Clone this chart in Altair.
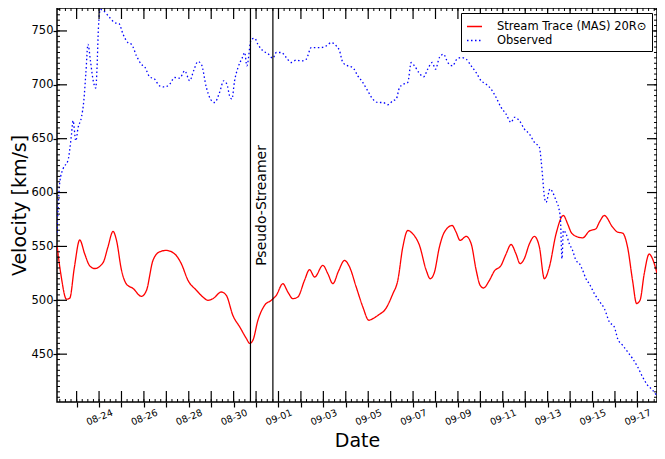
import json
import altair as alt
import pandas as pd

YEAR = "2013"
RED_NAME = "Stream Trace (MAS) 20R\u2299"
OBS_NAME = "Observed"

RED_TIME = [
    "08-22 03:00", "08-22 07:10", "08-22 13:10", "08-22 16:40", "08-22 21:30", "08-23 03:20", "08-23 08:40", "08-23 14:00", "08-23 19:20", "08-24 04:20",
    "08-24 09:20", "08-24 15:00", "08-24 18:40", "08-25 00:00", "08-25 05:20", "08-25 12:20", "08-25 21:20", "08-26 02:40", "08-26 09:40", "08-26 16:50",
    "08-27 00:00", "08-27 09:00", "08-27 16:00", "08-27 23:10", "08-28 08:10", "08-28 15:10", "08-28 20:30", "08-29 01:50", "08-29 10:50", "08-29 16:10",
    "08-29 23:10", "08-30 06:30", "08-30 13:40", "08-30 17:10", "08-30 20:40", "08-31 02:00", "08-31 09:10", "08-31 16:20", "08-31 21:40", "09-01 04:40",
    "09-01 10:00", "09-01 15:20", "09-01 20:40", "09-02 03:50", "09-02 09:10", "09-02 14:40", "09-02 23:30", "09-03 04:50", "09-03 10:10", "09-03 16:10",
    "09-03 22:40", "09-04 04:00", "09-04 11:10", "09-04 18:10", "09-05 00:40", "09-05 05:00", "09-05 12:00", "09-05 17:30", "09-06 02:20", "09-06 07:40",
    "09-06 13:00", "09-06 18:20", "09-06 23:40", "09-07 06:50", "09-07 14:00", "09-07 18:20", "09-07 22:50", "09-08 04:10", "09-08 09:30", "09-08 17:50",
    "09-08 22:00", "09-09 02:20", "09-09 08:50", "09-09 14:10", "09-09 19:30", "09-09 23:40", "09-10 03:20", "09-10 09:40", "09-10 15:00", "09-10 22:10",
    "09-11 03:30", "09-11 08:50", "09-11 14:10", "09-11 18:30", "09-11 23:00", "09-12 04:30", "09-12 09:50", "09-12 15:10", "09-12 20:30", "09-13 01:50",
    "09-13 09:00", "09-13 16:50", "09-13 21:20", "09-14 01:00", "09-14 04:30", "09-14 13:30", "09-14 20:30", "09-15 03:40", "09-15 07:20", "09-15 12:40",
    "09-15 21:30", "09-16 02:50", "09-16 08:10", "09-16 13:30", "09-16 18:50", "09-16 23:10", "09-17 02:50", "09-17 07:20", "09-17 12:40", "09-17 16:10", "09-17 21:00",
]
RED_VEL = [
    551, 524, 501, 502, 530, 556, 543, 532, 529.5, 535,
    549, 564, 555.6, 528, 515, 511, 503.7, 509, 537, 545,
    546.3, 543, 534, 518.5, 509.3, 503, 500, 501.5, 507.7, 504.6,
    486, 475.3, 464.5, 460, 463, 481.5, 495.4, 500, 504.6, 515.4,
    507.7, 501.5, 503, 518.5, 528.4, 521.6, 532.4, 524.7, 515.4, 527,
    537, 531, 512.3, 494, 481.5, 483, 487, 490.7, 506, 518.5,
    549.4, 564.8, 561.7, 551, 528, 520, 526, 549.4, 563.3, 569.4,
    563.3, 555.6, 559.3, 552.5, 528, 514, 511.4, 518.5, 527.2, 532.4,
    543, 551.8, 543, 534, 538.6, 552.5, 559.3, 549.4, 520, 531,
    561.7, 578.7, 571, 563.3, 560.2, 558, 564.2, 566.4, 572.5, 578.7,
    567.9, 563.3, 562.4, 549.4, 518.5, 497, 500, 524.7, 543, 538.6, 525,
]

OBS_TIME = [
    "08-22 03:00", "08-22 04:10", "08-22 06:00", "08-22 09:30", "08-22 14:50", "08-22 16:40", "08-22 18:30", "08-22 20:10", "08-22 23:10", "08-23 01:30",
    "08-23 05:10", "08-23 07:40", "08-23 09:50", "08-23 12:10", "08-23 14:50", "08-23 17:30", "08-23 20:30", "08-23 21:50", "08-23 23:20", "08-24 01:20",
    "08-24 04:20", "08-24 11:30", "08-24 16:50", "08-24 21:20", "08-25 01:40", "08-25 07:00", "08-25 10:40", "08-25 16:00", "08-25 21:20", "08-26 00:50",
    "08-26 06:10", "08-26 11:30", "08-26 16:50", "08-26 22:10", "08-27 03:30", "08-27 09:00", "08-27 14:20", "08-27 19:40", "08-28 01:00", "08-28 05:10",
    "08-28 09:50", "08-28 13:30", "08-28 18:50", "08-28 23:10", "08-29 03:40", "08-29 09:00", "08-29 13:20", "08-29 16:50", "08-29 19:40", "08-29 22:10",
    "08-30 01:00", "08-30 04:40", "08-30 09:20", "08-30 11:50", "08-30 14:10", "08-30 18:50", "08-30 22:30", "08-31 02:00", "08-31 07:20", "08-31 12:40",
    "08-31 18:00", "08-31 21:40", "09-01 03:00", "09-01 08:20", "09-01 13:40", "09-01 19:00", "09-02 00:20", "09-02 05:40", "09-02 11:00", "09-02 16:30",
    "09-02 21:50", "09-03 03:10", "09-03 08:30", "09-03 13:50", "09-03 17:20", "09-03 20:50", "09-04 02:10", "09-04 07:30", "09-04 12:50", "09-04 18:10",
    "09-04 23:30", "09-05 04:50", "09-05 10:20", "09-05 15:40", "09-05 21:00", "09-06 02:20", "09-06 06:00", "09-06 09:30", "09-06 13:40", "09-06 18:20",
    "09-06 22:00", "09-07 01:30", "09-07 06:10", "09-07 11:10", "09-07 15:40", "09-07 20:30", "09-08 00:00", "09-08 04:10", "09-08 08:30", "09-08 13:10",
    "09-08 18:30", "09-08 22:00", "09-09 03:30", "09-09 08:50", "09-09 14:10", "09-09 19:30", "09-10 00:50", "09-10 06:10", "09-10 11:30", "09-10 16:50",
    "09-10 22:10", "09-11 03:30", "09-11 08:50", "09-11 12:20", "09-11 17:50", "09-11 23:00", "09-12 04:30", "09-12 09:50", "09-12 15:10", "09-12 17:00",
    "09-12 18:40", "09-12 20:30", "09-12 22:20", "09-13 02:30", "09-13 05:20", "09-13 09:00", "09-13 11:40", "09-13 13:40", "09-13 15:20", "09-13 16:50",
    "09-13 19:40", "09-13 23:10", "09-14 02:40", "09-14 06:20", "09-14 10:00", "09-14 13:30", "09-14 17:00", "09-14 20:30", "09-15 02:00", "09-15 07:20",
    "09-15 12:40", "09-15 18:00", "09-15 23:20", "09-16 02:50", "09-16 08:10", "09-16 13:30", "09-16 18:50", "09-17 00:10", "09-17 05:30", "09-17 10:50",
    "09-17 16:10", "09-17 21:00",
]
OBS_VEL = [
    563, 585, 610, 622, 630, 640, 654, 666.7, 648, 660,
    670, 685, 710, 737.6, 722, 705, 697, 716, 753, 770,
    769, 762.3, 757.7, 756.8, 747, 739, 737.6, 727, 719, 716.7,
    707.4, 705.3, 699, 698, 700.6, 706.8, 706.2, 713, 703.7, 713,
    721.6, 719, 697.5, 686.8, 683.6, 693, 703.7, 700.6, 689.8, 686.8,
    703.7, 716, 725.3, 730, 717.6, 742.3, 743.2, 737.6, 731.5, 729,
    724.7, 730, 730, 725.3, 720.7, 722.9, 722.2, 723.8, 734.6, 734.6,
    734.6, 736.1, 739.2, 736.1, 731.5, 720.7, 717.6, 716, 708.3, 702.2,
    694.4, 686.8, 683.6, 683.6, 681.5, 685.2, 686.8, 697.5, 700.6, 702.2,
    720.7, 717.6, 711.4, 707.4, 714.5, 720.7, 714.5, 725.3, 728.4, 720.7,
    717.6, 722.9, 725.3, 723.8, 717.6, 711.4, 703.7, 700.6, 696, 688.3,
    679, 672.9, 665.1, 669.8, 666.7, 659, 654.3, 646.6, 642, 630,
    614, 596, 591, 603.4, 600.3, 592.6, 586.4, 575.6, 538.6, 564.8,
    561.7, 552.5, 546.3, 537, 534, 527.8, 520, 515.4, 506.2, 499,
    492.3, 480, 475.3, 464.5, 458.3, 452.2, 446, 438.3, 429, 421.3,
    416.7, 411,
]

EVENT_TIME = ["08-30 18:00", "08-31 18:00"]
NOTE_TIME = ["08-31 06:00"]
NOTE_VEL = [588]
NOTE_TEXT = ["Pseudo-Streamer"]

X_LABELS = ["08-24", "08-26", "08-28", "08-30", "09-01", "09-03", "09-05",
            "09-07", "09-09", "09-11", "09-13", "09-15", "09-17"]
Y_MAJOR = [450, 500, 550, 600, 650, 700, 750]
Y_MINOR = list(range(410, 771, 5))

W, H = 600, 394


def ts(s):
    return f"{YEAR}-{s[:5]}T{s[6:]}:00"


def dt(t):
    return alt.DateTime(year=t.year, month=t.month, date=t.day, hours=t.hour)


lines_df = pd.DataFrame({
    "time": [ts(t) for t in RED_TIME] + [ts(t) for t in OBS_TIME],
    "velocity": RED_VEL + OBS_VEL,
    "series": [RED_NAME] * len(RED_TIME) + [OBS_NAME] * len(OBS_TIME),
})
event_df = pd.DataFrame({"time": [ts(t) for t in EVENT_TIME]})
note_df = pd.DataFrame({"time": [ts(t) for t in NOTE_TIME], "velocity": NOTE_VEL, "text": NOTE_TEXT})

day_range = pd.date_range(f"{YEAR}-08-23", f"{YEAR}-09-17", freq="D")
minor_range = pd.date_range(f"{YEAR}-08-22 06:00", f"{YEAR}-09-17 18:00", freq="6h")
day_df = pd.DataFrame({"time": [t.strftime("%Y-%m-%dT%H:%M:%S") for t in day_range]})
minor_df = pd.DataFrame({"time": [t.strftime("%Y-%m-%dT%H:%M:%S") for t in minor_range]})
ymaj_df = pd.DataFrame({"velocity": Y_MAJOR})
ymin_df = pd.DataFrame({"velocity": Y_MINOR})

x_scale = alt.Scale(domain=[alt.DateTime(year=2013, month=8, date=22, hours=3),
                            alt.DateTime(year=2013, month=9, date=17, hours=21)], nice=False)
y_scale = alt.Scale(domain=[405.6, 771.3], nice=False, zero=False)

label_expr = ("indexof(" + json.dumps(X_LABELS).replace('"', "'") +
              ", timeFormat(datum.value, '%m-%d')) >= 0 ? timeFormat(datum.value, '%m-%d') : ''")

ax_bottom = alt.Axis(orient="bottom", values=[dt(t) for t in day_range], labelExpr=label_expr,
                     ticks=True, tickSize=5, tickWidth=1.2, tickColor="black",
                     domain=False, grid=False, labelFont="DejaVu Sans",
                     labelFontSize=9.5, labelAngle=338, labelAlign="center",
                     labelBaseline="middle", labelPadding=10, labelOverlap=False, labelFlush=False,
                     labelColor="black", title="Date", titleFont="DejaVu Sans", titleFontSize=19,
                     titleFontWeight="normal", titleY=44, titleBaseline="alphabetic", titleColor="black")
ax_left = alt.Axis(orient="left", values=Y_MAJOR, ticks=True, tickSize=4, tickWidth=1.2,
                   tickColor="black", domain=False, grid=False,
                   labelFont="DejaVu Sans", labelFontSize=11.5, labelPadding=0, labelColor="black",
                   title="Velocity [km/s]", titleFont="DejaVu Sans", titleFontSize=19,
                   titleFontWeight="normal", titleX=-38, titleBaseline="middle", titleColor="black")

legend = alt.Legend(title=None, orient="top-right", offset=5, strokeColor="black", fillColor="white",
                    padding=5, symbolType="stroke", symbolSize=225, symbolStrokeWidth=1.4,
                    labelFont="DejaVu Sans", labelFontSize=11.5, labelOffset=14, rowPadding=0,
                    labelColor="black", labelLimit=300)

series_domain = [RED_NAME, OBS_NAME]

X_ENC = alt.X("time:T", scale=x_scale, axis=ax_bottom)
Y_ENC = alt.Y("velocity:Q", scale=y_scale, axis=ax_left)

lines = alt.Chart(lines_df).mark_line(clip=True, strokeWidth=1.3, interpolate="monotone").encode(
    x=X_ENC,
    y=Y_ENC,
    color=alt.Color("series:N", scale=alt.Scale(domain=series_domain, range=["#ff0000", "#0000ff"]),
                    legend=legend),
    strokeDash=alt.StrokeDash("series:N", scale=alt.Scale(domain=series_domain, range=[[1, 0], [1.5, 2.5]]),
                              legend=legend),
)

rules = alt.Chart(event_df).mark_rule(color="black", strokeWidth=1.2).encode(x=X_ENC)

note = alt.Chart(note_df).mark_text(angle=270, fontSize=14, font="DejaVu Sans", color="black",
                                    align="center", baseline="middle").encode(
    x=X_ENC, y=Y_ENC, text="text:N",
)


def x_ticks(df, y0, y1, w):
    return alt.Chart(df).mark_rule(color="black", strokeWidth=w).encode(
        x=X_ENC, y=alt.value(y0), y2=alt.value(y1))


def y_ticks(df, x0, x1, w):
    return alt.Chart(df).mark_rule(color="black", strokeWidth=w).encode(
        y=Y_ENC, x=alt.value(x0), x2=alt.value(x1))


ticks = [
    x_ticks(day_df, H - 11, H, 1.2), x_ticks(day_df, 0, 11, 1.2),
    x_ticks(minor_df, H - 3, H, 1), x_ticks(minor_df, 0, 3, 1),
    y_ticks(ymaj_df, 0, 10, 1.2), y_ticks(ymaj_df, W - 10, W, 1.2),
    y_ticks(ymin_df, 0, 3, 1), y_ticks(ymin_df, W - 3, W, 1),
]

chart = alt.layer(lines, rules, note, *ticks).properties(
    width=W, height=H,
    autosize=alt.AutoSizeParams(type="none"),
    padding={"left": 49, "top": 0, "right": 0, "bottom": 49},
).configure_view(stroke="black", strokeWidth=1.5)

chart.save("out.html", embed_options={"renderer": "svg", "actions": False})
